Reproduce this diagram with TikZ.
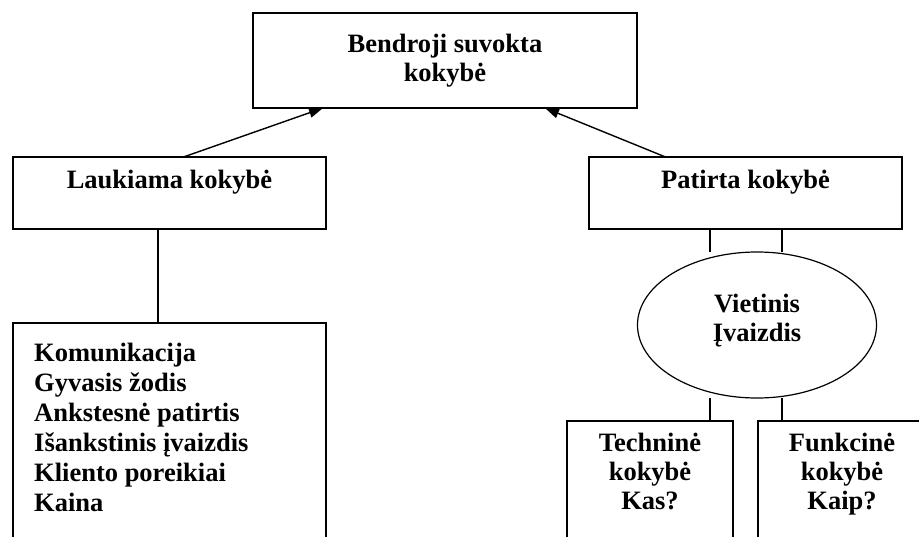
\documentclass[tikz,border=0pt]{standalone}
\usepackage{fontspec}
\setmainfont{Liberation Serif}
\usetikzlibrary{arrows.meta,positioning,shapes}
\tikzset{
  main-box/.style={rectangle,draw,line width=1.8pt,outer sep=0pt,
    minimum width=384pt,minimum height=95pt,align=center},
  side-box/.style={rectangle,draw,line width=1.8pt,outer sep=0pt,
    minimum width=313pt,minimum height=72pt,text height=18pt,text depth=27pt},
  open-box/.style={rectangle,draw,line width=1.8pt,outer sep=0pt,
    anchor=north west,minimum height=260pt,minimum width=#1},
  local-ell/.style={ellipse,draw,line width=1.2pt,outer sep=0pt,
    minimum width=239pt,minimum height=146pt,align=center},
  box-text/.style={inner sep=0pt,align=#1},
  box-text/.default=center,
  link/.style={line width=1.4pt},
  up-link/.style={link,-{Triangle[length=14pt,width=10pt]}}
}

\begin{document}
\begin{tikzpicture}[x=1pt,y=-1pt,font=\fontsize{26.5}{29}\selectfont\bfseries]
    \useasboundingbox (0,0) rectangle (919,536);
    \clip (0,0) rectangle (919,536);
    % top and middle row
    \node[main-box] (bendroji) at (445,60.5) {Bendroji suvokta\\kokybė};
    \node[side-box] (laukiama) at (169.5,193) {Laukiama kokybė};
    \node[side-box] (patirta) at (745.5,193) {Patirta kokybė};
    \node[local-ell] (vietinis) at (757,325) {};
    \node[box-text] (vietinis-text) at ([yshift=4pt]vietinis.center) {Vietinis\\Įvaizdis};
    % boxes running off the page
    \node[open-box=313pt] (list) at (13,323) {};
    \node[open-box=166pt] (techn) at (567,421) {};
    \node[open-box=200pt] (funk) at (758,421) {};
    \node[box-text=left, below right=20pt and 21pt of list.north west,
      font=\fontsize{26.5}{30}\selectfont\bfseries] (list-text)
      {Komunikacija\\Gyvasis žodis\\Ankstesnė patirtis\\Išankstinis įvaizdis\\Kliento poreikiai\\Kaina};
    \node[box-text, below=12pt of techn.north] (techn-text) {Techninė\\kokybė\\Kas?};
    \node[box-text, below=12pt of funk.north, xshift=-16pt] (funk-text) {Funkcinė\\kokybė\\Kaip?};
    % connectors
    \draw[up-link] ([xshift=14pt]laukiama.north) -- ([xshift=-122pt]bendroji.south);
    \draw[up-link] ([xshift=-80pt]patirta.north) -- ([xshift=100pt]bendroji.south);
    \draw[link] ([xshift=-11.5pt]laukiama.south) -- ([xshift=-11.5pt]laukiama.south |- list.north);
    \draw[link] ([xshift=-35.5pt]patirta.south) -- ([xshift=-35.5pt]patirta.south |- vietinis.north);
    \draw[link] ([xshift=36.5pt]patirta.south) -- ([xshift=36.5pt]patirta.south |- vietinis.north);
    \draw[link] ([xshift=-47pt]vietinis.south) -- ([xshift=-47pt]vietinis.south |- techn.north);
    \draw[link] ([xshift=25pt]vietinis.south) -- ([xshift=25pt]vietinis.south |- funk.north);
\end{tikzpicture}
\end{document}
